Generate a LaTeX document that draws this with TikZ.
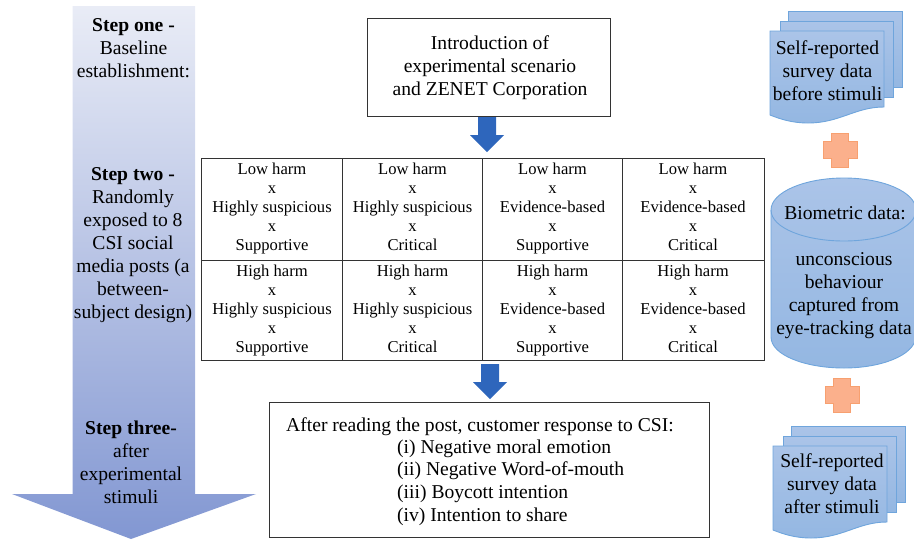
\documentclass[tikz,border=0pt]{standalone}
\usepackage{fontspec}
\setmainfont{Liberation Serif}
\definecolor{docline}{HTML}{6FA5DC}
\definecolor{doctop}{HTML}{ABC4E8}
\definecolor{docbot}{HTML}{94B7E2}
\definecolor{crossfill}{HTML}{FBB08C}
\definecolor{crossline}{HTML}{F7A070}
\definecolor{arrowblue}{HTML}{2E66BC}
\definecolor{linegray}{HTML}{333333}
\definecolor{bigtop}{HTML}{E9ECF6}
\definecolor{bigbot}{HTML}{8297D2}
\newcommand{\stackdoc}[2]{%
  \path[docsheet] (#1+18,#2-20) rectangle (#1+132,#2+56);
  \path[docsheet] (#1+10,#2-10) rectangle (#1+123,#2+66);
  \path[docsheet] (#1,#2) -- (#1+114,#2) -- (#1+114,#2+76)
    .. controls (#1+85,#2+76) and (#1+70,#2+92) .. (#1+38,#2+92)
    .. controls (#1+22,#2+92) and (#1+10,#2+88) .. (#1,#2+84) -- cycle;}
\newcommand{\plusshape}[2]{%
  \path[crossmark] (#1-9,#2-17) -- (#1+8,#2-17) -- (#1+8,#2-9) -- (#1+17,#2-9) -- (#1+17,#2+8)
    -- (#1+8,#2+8) -- (#1+8,#2+17) -- (#1-9,#2+17) -- (#1-9,#2+8) -- (#1-17,#2+8)
    -- (#1-17,#2-9) -- (#1-9,#2-9) -- cycle;}
\newcommand{\blockdown}[2]{%
  \path[blockarrow] (#1-9,#2) -- (#1+9,#2) -- (#1+9,#2+18) -- (#1+17,#2+18) -- (#1,#2+35)
    -- (#1-17,#2+18) -- (#1-9,#2+18) -- cycle;}
\tikzset{
  x=1pt,y=-1pt,
  every node/.style={font=\fontsize{19.6}{23}\selectfont,align=center,inner sep=0pt,text=black},
  docsheet/.style={top color=doctop,bottom color=docbot,draw=docline,line width=0.9pt},
  crossmark/.style={fill=crossfill,draw=crossline,line width=0.9pt},
  blockarrow/.style={fill=arrowblue,draw=none},
  framebox/.style={draw=linegray,line width=0.9pt,fill=white},
  celltext/.style={font=\fontsize{16.6}{19}\selectfont,anchor=north},
}
\begin{document}
\begin{tikzpicture}
\useasboundingbox (0,0) rectangle (914,539);
% big arrow
\shade[top color=bigtop,bottom color=bigbot]
  (72.5,6) -- (195,6) -- (195,494) -- (256,494) -- (131,539) -- (12,494) -- (72.5,494) -- cycle;
\node (stepone) at (133.5,48) {\textbf{Step one -}\\Baseline\\establishment:};
\node (steptwo) at (133,245) {\textbf{Step two -}\\Randomly\\exposed to 8\\CSI social\\media posts (a\\between-\\subject design)};
\node (stepthree) at (131,462) {\textbf{Step three-}\\after\\experimental\\stimuli};
% intro
\draw[framebox] (367,18) rectangle (610,116);
\node (intro) at (490,68) {Introduction of\\experimental scenario\\and ZENET Corporation};
\blockdown{487}{117}
% table
\draw[framebox] (201.5,158.5) rectangle (764,360.5);
\draw[framebox] (201.5,260) -- (764,260);
\foreach \cx in {342,482,622} \draw[framebox] (\cx,158.5) -- (\cx,360.5);
\node[celltext] (c11) at (272,163) {Low harm\\x\\Highly suspicious\\x\\Supportive};
\node[celltext] (c12) at (412.5,163) {Low harm\\x\\Highly suspicious\\x\\Critical};
\node[celltext] (c13) at (552.5,163) {Low harm\\x\\Evidence-based\\x\\Supportive};
\node[celltext] (c14) at (693,163) {Low harm\\x\\Evidence-based\\x\\Critical};
\node[celltext] (c21) at (272,264.5) {High harm\\x\\Highly suspicious\\x\\Supportive};
\node[celltext] (c22) at (412.5,264.5) {High harm\\x\\Highly suspicious\\x\\Critical};
\node[celltext] (c23) at (552.5,264.5) {High harm\\x\\Evidence-based\\x\\Supportive};
\node[celltext] (c24) at (693,264.5) {High harm\\x\\Evidence-based\\x\\Critical};
\blockdown{490}{364}
% response box
\draw[framebox] (269,402) rectangle (709,537);
\node[anchor=base west] (resp0) at (286,431) {After reading the post, customer response to CSI:};
\node[anchor=base west] (resp1) at (397,453) {(i) Negative moral emotion};
\node[anchor=base west] (resp2) at (397,475.5) {(ii) Negative Word-of-mouth};
\node[anchor=base west] (resp3) at (397,498) {(iii) Boycott intention};
\node[anchor=base west] (resp4) at (397,521) {(iv) Intention to share};
% right column
\stackdoc{770}{31}
\node (docone) at (827.5,70.5) {Self-reported\\survey data\\before stimuli};
\plusshape{840}{150.5}
\path[docsheet] (771,210) -- (771,337) .. controls (771,355) and (805,368) .. (844,368)
  .. controls (880,368) and (914,356) .. (916,337) -- (916,210)
  .. controls (916,192) and (883,178) .. (844,178) .. controls (805,178) and (771,192) .. (771,210) -- cycle;
\path[draw=docline,line width=0.9pt] (771,210) .. controls (771,228) and (805,241) .. (844,241)
  .. controls (883,241) and (916,228) .. (916,210);
\node (bio) at (845,213) {Biometric data:};
\node (biotwo) at (844,296) {unconscious\\behaviour\\captured from\\eye-tracking data};
\plusshape{842}{395}
\stackdoc{773}{446}
\node (doctwo) at (832,483.5) {Self-reported\\survey data\\after stimuli};
\end{tikzpicture}
\end{document}
